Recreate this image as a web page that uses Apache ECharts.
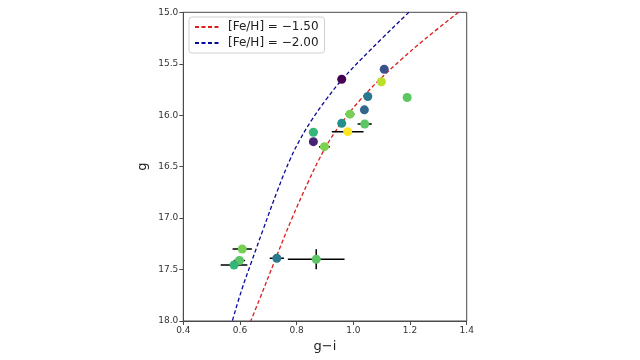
<!DOCTYPE html>
<html>
<head>
<meta charset="utf-8">
<script src="https://cdn.jsdelivr.net/npm/echarts@6/dist/echarts.min.js"></script>
<style>html,body{margin:0;padding:0;background:#fff}#c{width:640px;height:360px}</style>
</head>
<body>
<div id="c"></div>
<script>
// Observed stars
var gi     = [0.959, 1.109, 1.099, 1.190, 1.051, 1.039, 0.988, 0.959, 1.040, 0.980, 0.859, 0.859, 0.898, 0.608, 0.598, 0.579, 0.730, 0.869];
var gmag   = [15.651, 15.553, 15.675, 15.828, 15.818, 15.948, 15.990, 16.079, 16.086, 16.160, 16.166, 16.257, 16.306, 17.300, 17.412, 17.456, 17.390, 17.400];
var giErr  = [0.000, 0.000, 0.000, 0.000, 0.000, 0.000, 0.016, 0.000, 0.025, 0.056, 0.015, 0.000, 0.019, 0.034, 0.020, 0.047, 0.025, 0.100];
var gErr   = [0.000, 0.000, 0.000, 0.000, 0.000, 0.000, 0.000, 0.000, 0.000, 0.020, 0.000, 0.000, 0.000, 0.000, 0.000, 0.000, 0.000, 0.097];
var cval   = [0.00, 0.26, 0.90, 0.74, 0.40, 0.33, 0.79, 0.50, 0.74, 1.00, 0.66, 0.10, 0.80, 0.79, 0.74, 0.66, 0.41, 0.74];

// Isochrones
var isoNames = ['[Fe/H] = \u22121.50', '[Fe/H] = \u22122.00'];
var isoA_gi = [1.371, 1.249, 1.167, 1.091, 1.024, 0.966, 0.917, 0.878, 0.844, 0.781, 0.724, 0.668, 0.638];
var isoA_g  = [15.000, 15.269, 15.464, 15.658, 15.852, 16.047, 16.241, 16.435, 16.629, 17.018, 17.407, 17.796, 18.000];
var isoB_gi = [1.196, 1.060, 0.959, 0.903, 0.853, 0.811, 0.776, 0.733, 0.681, 0.643, 0.606, 0.573];
var isoB_g  = [15.000, 15.366, 15.658, 15.852, 16.047, 16.241, 16.435, 16.727, 17.116, 17.407, 17.698, 18.000];

// Axis ticks
var xTicks = [0.4, 0.6, 0.8, 1.0, 1.2, 1.4];
var yTicks = [15.0, 15.5, 16.0, 16.5, 17.0, 17.5, 18.0];

function zip(a, b) { return a.map(function (v, i) { return [v, b[i]]; }); }

var starData = gi.map(function (v, i) { return [v, gmag[i], cval[i]]; });
var errData = gi.map(function (v, i) { return [v, gmag[i], giErr[i], gErr[i]]; });

var FONT = 'DejaVu Sans';
var chart = echarts.init(document.getElementById('c'), null, {renderer: 'canvas'});
chart.setOption({
  animation: false,
  backgroundColor: '#fff',
  textStyle: {fontFamily: FONT},
  grid: {left: 183.3, right: 173.3, top: 12.3, bottom: 39, show: true, borderColor: '#4a4a4a', borderWidth: 1, backgroundColor: 'transparent'},
  legend: {
    left: 189, top: 17, orient: 'vertical',
    data: isoNames,
    itemWidth: 24, itemHeight: 14, itemGap: 4,
    padding: [4, 6, 4, 5],
    borderColor: '#d0d0d0', borderWidth: 1, borderRadius: 3,
    backgroundColor: '#fff',
    itemStyle: {opacity: 0},
    textStyle: {fontFamily: FONT, fontSize: 12, color: '#222', padding: [0, 0, 0, 4]}
  },
  visualMap: {
    show: false, seriesIndex: 3, dimension: 2, min: 0, max: 1,
    inRange: {color: ['#440154','#482878','#3e4989','#31688e','#26828e','#1f9e89','#35b779','#6ece58','#b5de2b','#fde725']}
  },
  xAxis: {
    type: 'value', min: xTicks[0], max: xTicks[xTicks.length - 1], interval: 0.2,
    name: 'g\u2212i', nameLocation: 'middle', nameGap: 19,
    nameTextStyle: {fontFamily: FONT, fontSize: 13, color: '#222'},
    axisLine: {show: true, lineStyle: {color: '#4a4a4a'}},
    axisTick: {show: true, length: 4, lineStyle: {color: '#4a4a4a'}},
    axisLabel: {fontFamily: FONT, fontSize: 9, color: '#333', margin: 5, formatter: function (v) { return v.toFixed(1); }},
    splitLine: {show: false}
  },
  yAxis: {
    type: 'value', inverse: true, min: yTicks[0], max: yTicks[yTicks.length - 1], interval: 0.5,
    name: 'g', nameLocation: 'middle', nameGap: 34, nameRotate: 90,
    nameTextStyle: {fontFamily: FONT, fontSize: 13, color: '#222'},
    axisLine: {show: true, lineStyle: {color: '#4a4a4a'}},
    axisTick: {show: true, length: 4, lineStyle: {color: '#4a4a4a'}},
    axisLabel: {fontFamily: FONT, fontSize: 9, color: '#333', margin: 5, formatter: function (v) { return v.toFixed(1); }},
    splitLine: {show: false}
  },
  series: [
    {
      name: isoNames[0], type: 'line', data: zip(isoA_gi, isoA_g), smooth: 0.4, symbol: 'none', clip: true,
      lineStyle: {color: '#dd1c1c', width: 1.3, type: [4, 2.5]}, itemStyle: {color: '#dd1c1c'}, z: 2
    },
    {
      name: isoNames[1], type: 'line', data: zip(isoB_gi, isoB_g), smooth: 0.4, symbol: 'none', clip: true,
      lineStyle: {color: '#0a0a9a', width: 1.3, type: [4, 2.5]}, itemStyle: {color: '#0a0a9a'}, z: 2
    },
    {
      type: 'custom', data: errData, z: 3, clip: true,
      renderItem: function (params, api) {
        var x = api.value(0), y = api.value(1), ex = api.value(2), ey = api.value(3);
        var children = [];
        var st = {stroke: '#000', lineWidth: 1.5};
        if (ex > 0) {
          var a = api.coord([x - ex, y]), b = api.coord([x + ex, y]);
          children.push({type: 'line', shape: {x1: a[0], y1: a[1], x2: b[0], y2: b[1]}, style: st});
        }
        if (ey > 0) {
          var c = api.coord([x, y - ey]), d = api.coord([x, y + ey]);
          children.push({type: 'line', shape: {x1: c[0], y1: c[1], x2: d[0], y2: d[1]}, style: st});
        }
        return {type: 'group', children: children};
      }
    },
    {
      type: 'scatter', data: starData, symbolSize: 9, z: 4,
      itemStyle: {opacity: 1}
    }
  ]
});
</script>
</body>
</html>
